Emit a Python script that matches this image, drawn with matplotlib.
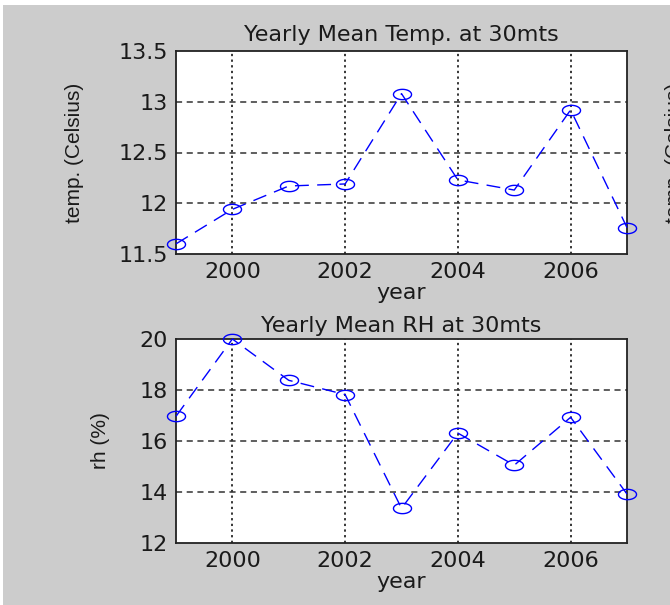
import numpy as np
import matplotlib.pyplot as plt
from matplotlib.patches import Rectangle
from matplotlib.path import Path

# yearly means
years = [1999, 2000, 2001, 2002, 2003, 2004, 2005, 2006, 2007]
temp_c = [11.60, 11.94, 12.17, 12.19, 13.08, 12.23, 12.13, 12.92, 11.76]
rh_pct = [16.97, 20.00, 18.38, 17.82, 13.36, 16.31, 15.05, 16.93, 13.92]

xticks = [2000, 2002, 2004, 2006]
temp_ticks = [11.5, 12, 12.5, 13, 13.5]
temp_ticklabels = ['11.5', '12', '12.5', '13', '13.5']
rh_ticks = [12, 14, 16, 18, 20]

plt.rcParams['font.family'] = ['DejaVu Sans']
FS = 16        # horizontal texts (screenshot is stretched sideways)
FS_Y = 15      # rotated y labels
YFONT = ['Liberation Sans', 'DejaVu Sans']
TXT = '#1a1a1a'
GREY = '#cccccc'

# the screenshot is stretched horizontally, so the circles look like ellipses
t = np.linspace(0, 2 * np.pi, 60)
ellipse = Path(np.column_stack([1.75 * np.cos(t), np.sin(t)]), closed=True)

fig = plt.figure(figsize=(6.7, 6.05), dpi=100, facecolor='white')
# grey figure area with thin white strip at top / left like the screenshot
fig.patches.append(Rectangle((3 / 670, 0), 1, 1 - 5 / 605, transform=fig.transFigure,
                             facecolor=GREY, edgecolor='none', zorder=-10))

ax1 = fig.add_axes([176 / 670, 1 - 254 / 605, 451 / 670, 203 / 605])
ax2 = fig.add_axes([176 / 670, 1 - 543 / 605, 451 / 670, 204 / 605])


def style_axes(ax, yticks, yticklabels, ylabel, ylabel_x, title, title_pad):
    ax.set_facecolor('white')
    ax.set_xlim(1999, 2007)
    ax.set_xticks(xticks)
    ax.set_yticks(yticks)
    ax.set_yticklabels(yticklabels)
    ax.set_ylim(yticks[0], yticks[-1])
    ax.tick_params(length=0, labelsize=FS, pad=6, colors=TXT)
    for s in ax.spines.values():
        s.set_linewidth(1.3)
        s.set_color('#222222')
    # vertical grid dotted, horizontal dashed (as rendered in the screenshot)
    for x in xticks:
        ax.axvline(x, color='black', lw=1.1, linestyle=(0, (1.5, 2.2)), zorder=1)
    for y in yticks[1:-1]:
        ax.axhline(y, color='#333333', lw=1.1, linestyle=(0, (4, 3)), zorder=1)
    ax.set_xlabel('year', fontsize=FS, labelpad=0.5, color=TXT)
    ax.set_ylabel(ylabel, fontsize=FS_Y, family=YFONT, color=TXT, va='center')
    ax.yaxis.set_label_coords((ylabel_x - 176) / 451, 0.5)
    ax.set_title(title, fontsize=FS, pad=title_pad, color=TXT)


ax1.plot(years, temp_c, color='blue', lw=1.0, dashes=(10, 6), marker=ellipse, ms=13,
         mfc='none', mec='blue', mew=1.0, clip_on=False, zorder=3)
style_axes(ax1, temp_ticks, temp_ticklabels, 'temp. (Celsius)', 74,
           'Yearly Mean Temp. at 30mts', 7)

ax2.plot(years, rh_pct, color='blue', lw=1.0, dashes=(10, 6), marker=ellipse, ms=13,
         mfc='none', mec='blue', mew=1.0, clip_on=False, zorder=3)
style_axes(ax2, rh_ticks, [str(v) for v in rh_ticks], 'rh (%)', 100,
           'Yearly Mean RH at 30mts', 5)

# neighbouring panel's label, cut off at the right edge
fig.text(665 / 670, 1 - 153 / 605, 'temp. (Celsius)', rotation=90, ha='left', va='center',
         fontsize=FS_Y, family=YFONT, color=TXT)

plt.savefig('out.png', dpi=100, facecolor=fig.get_facecolor())
